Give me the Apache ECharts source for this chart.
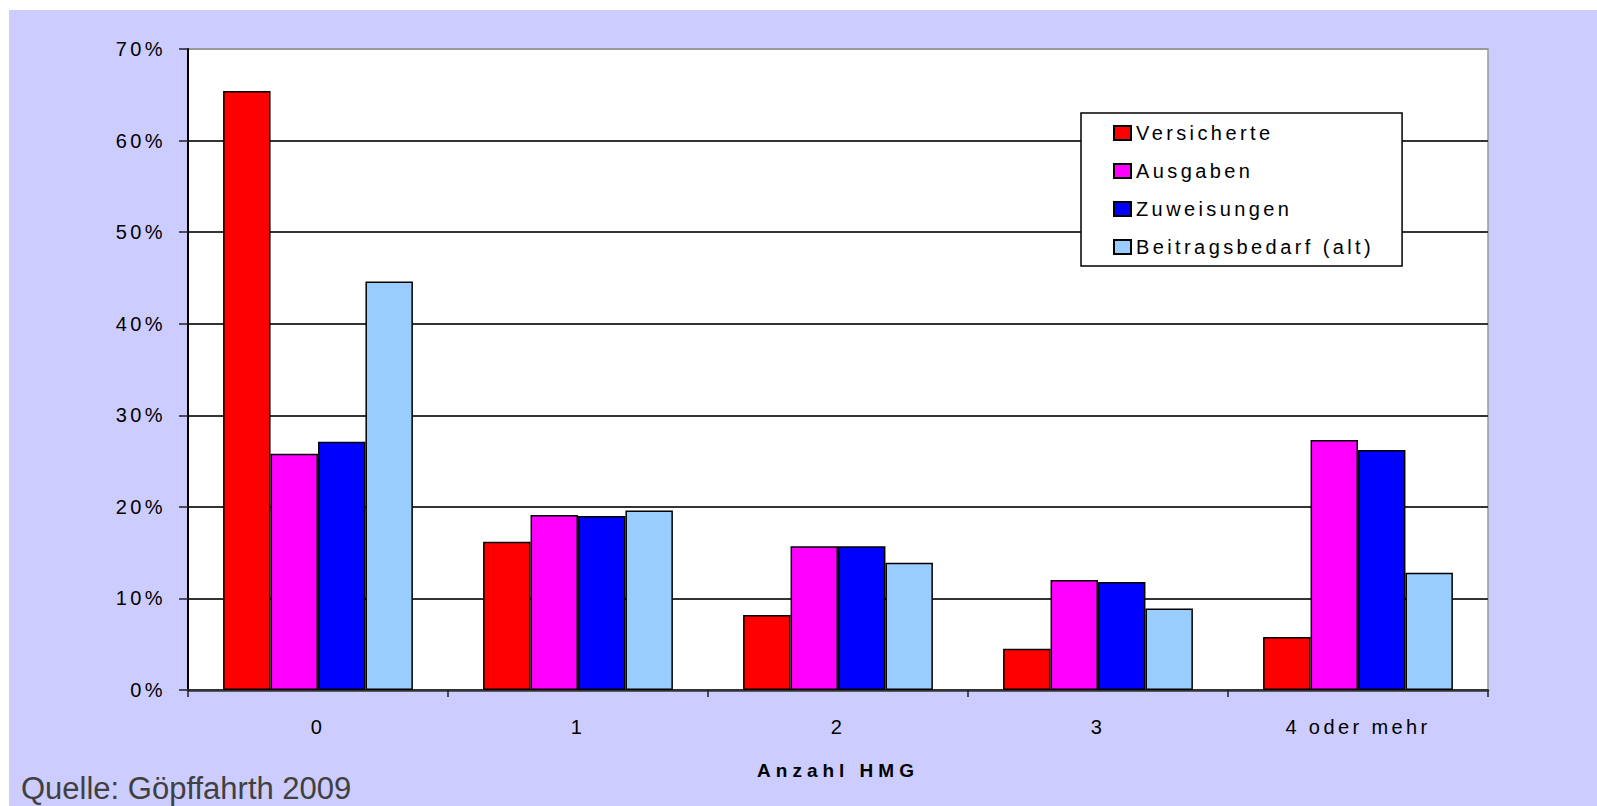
<!DOCTYPE html>
<html>
<head>
<meta charset="utf-8">
<script src="https://cdn.jsdelivr.net/npm/echarts@6/dist/echarts.min.js"></script>
<style>
  html, body { margin: 0; padding: 0; background: #ffffff; }
  #chart { width: 1597px; height: 806px; }
  #chart svg text { letter-spacing: 3.4px; }
  #chart svg text[style*="bold"] { letter-spacing: 5px; }
  #chart svg text[style*="Arial"] { letter-spacing: 0px; }
</style>
</head>
<body>
<div id="chart"></div>
<script>
const categories = ['0', '1', '2', '3', '4 oder mehr'];
const seriesNames = ['Versicherte', 'Ausgaben', 'Zuweisungen', 'Beitragsbedarf (alt)'];
const versicherte = [65.4, 16.2, 8.2, 4.5, 5.8];
const ausgaben = [25.8, 19.1, 15.7, 12.0, 27.3];
const zuweisungen = [27.1, 19.0, 15.7, 11.8, 26.2];
const beitragsbedarf = [44.6, 19.6, 13.9, 8.9, 12.8];
const yTicks = [0, 10, 20, 30, 40, 50, 60, 70];

const colors = ['#ff0000', '#ff00ff', '#0000ff', '#99ccff'];
const values = [versicherte, ausgaben, zuweisungen, beitragsbedarf];
const FONT = 'Liberation Sans';

const chart = echarts.init(document.getElementById('chart'), null, { renderer: 'svg' });

const series = seriesNames.map((name, i) => ({
  name: name,
  type: 'bar',
  data: values[i],
  barGap: '0%',
  barCategoryGap: '27%',
  itemStyle: { color: colors[i], borderColor: '#000', borderWidth: 1.5 },
  emphasis: { disabled: true }
}));

chart.setOption({
  backgroundColor: '#ffffff',
  animation: false,
  graphic: [
    { type: 'rect', z: -100, silent: true,
      shape: { x: 9, y: 10, width: 1600, height: 800 },
      style: { fill: '#ccccff' } },
    { type: 'text', z: 10, left: 21, top: 773,
      style: { text: 'Quelle: Göpffahrth 2009', font: '31px Arial', fill: '#404040' } }
  ],
  grid: {
    left: 188, right: 109, top: 49, bottom: 116,
    show: true, backgroundColor: '#ffffff', borderColor: '#999999', borderWidth: 1.5
  },
  legend: {
    orient: 'vertical',
    left: 1081, top: 113,
    padding: [10, 96, 9, 32],
    itemGap: 18,
    itemWidth: 17, itemHeight: 14,
    backgroundColor: '#ffffff',
    borderColor: '#000', borderWidth: 1.5, borderRadius: 0,
    icon: 'rect',
    textStyle: { fontFamily: FONT, fontSize: 20, color: '#000' },
    data: seriesNames
  },
  xAxis: {
    type: 'category',
    data: categories,
    name: 'Anzahl HMG',
    nameLocation: 'middle',
    nameGap: 71,
    nameTextStyle: { fontFamily: FONT, fontSize: 19, fontWeight: 'bold', color: '#000' },
    axisLine: { lineStyle: { color: '#333', width: 2.5 } },
    axisTick: { show: true, length: 7, alignWithLabel: false, lineStyle: { color: '#222', width: 1.5 } },
    axisLabel: { fontFamily: FONT, fontSize: 20, color: '#000', margin: 27 },
    splitLine: { show: false }
  },
  yAxis: {
    type: 'value',
    min: yTicks[0], max: yTicks[yTicks.length - 1], interval: 10,
    axisLine: { show: true, lineStyle: { color: '#000', width: 2 } },
    axisTick: { show: true, length: 9, lineStyle: { color: '#222', width: 1.5 } },
    axisLabel: { fontFamily: FONT, fontSize: 20, color: '#000', margin: 22, formatter: '{value}%' },
    splitLine: { show: true, lineStyle: { color: ['#333', '#333', '#333', '#333', '#333', '#333', '#333', '#999'], width: 2 } }
  },
  series: series
});
</script>
</body>
</html>
